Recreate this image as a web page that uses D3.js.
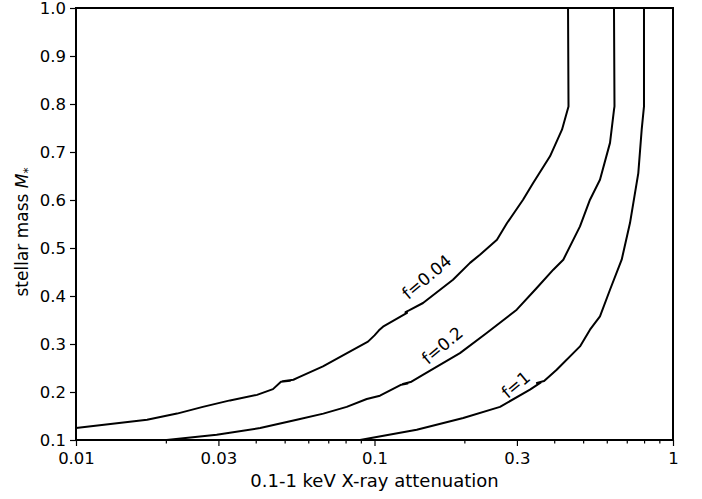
<!DOCTYPE html>
<html>
<head>
<meta charset="utf-8">
<script src="https://cdn.jsdelivr.net/npm/d3@7"></script>
<style>
  html, body { margin: 0; padding: 0; background: #fff; }
  text { font-family: "DejaVu Sans", sans-serif; fill: #000; }
</style>
</head>
<body>
<svg id="chart" width="702" height="499"></svg>
<script>
// contour lines: [attenuation, stellar mass]
const curveF004 = [
  [0.0100, 0.125], [0.0173, 0.142], [0.0218, 0.155], [0.0266, 0.169], [0.0328, 0.1825],
  [0.0404, 0.194], [0.0457, 0.206], [0.0486, 0.2215], [0.0522, 0.2235], [0.0492, 0.2225],
  [0.0535, 0.2255], [0.0554, 0.2298], [0.0672, 0.2533], [0.0809, 0.281], [0.0951, 0.305],
  [0.1000, 0.318], [0.1035, 0.3285], [0.1068, 0.336], [0.1285, 0.365], [0.1270, 0.3665],
  [0.1310, 0.3705], [0.1454, 0.3854], [0.1832, 0.434], [0.2089, 0.469], [0.2256, 0.486],
  [0.2572, 0.517], [0.2780, 0.552], [0.3145, 0.6006], [0.3396, 0.635], [0.3872, 0.691],
  [0.4247, 0.7465], [0.4466, 0.795], [0.4450, 1.0]
];
const curveF02 = [
  [0.0201, 0.100], [0.0296, 0.111], [0.0414, 0.125], [0.0549, 0.142], [0.0674, 0.155],
  [0.0807, 0.169], [0.0942, 0.1854], [0.1043, 0.1923], [0.1230, 0.2152], [0.1290, 0.2175],
  [0.1245, 0.2168], [0.1330, 0.2215], [0.1457, 0.236], [0.1933, 0.281], [0.2376, 0.323],
  [0.2996, 0.3715], [0.3495, 0.4167], [0.3972, 0.4548], [0.4290, 0.4756], [0.4880, 0.545],
  [0.5271, 0.6006], [0.5693, 0.6423], [0.6151, 0.719], [0.6343, 0.788], [0.6368, 0.795],
  [0.6343, 1.0]
];
const curveF1 = [
  [0.0894, 0.100], [0.1385, 0.1215], [0.1983, 0.1458], [0.2633, 0.169], [0.3318, 0.205],
  [0.3600, 0.2195], [0.3500, 0.2190], [0.3700, 0.2230], [0.4077, 0.2465], [0.4880, 0.295],
  [0.5271, 0.3298], [0.5693, 0.3575], [0.6151, 0.413], [0.6731, 0.4756], [0.7176, 0.552],
  [0.7652, 0.656], [0.7854, 0.7465], [0.7995, 0.795], [0.7995, 1.0]
];
const curves = [curveF004, curveF02, curveF1];

const curveLabels = ["f=0.04", "f=0.2", "f=1"];
const labelAt = [[0.1496, 0.4396], [0.1687, 0.297], [0.2972, 0.2152]];

const xTicks = [0.01, 0.03, 0.1, 0.3, 1];
const xTickLabels = ["0.01", "0.03", "0.1", "0.3", "1"];
const xMinor = [0.02, 0.04, 0.05, 0.06, 0.07, 0.08, 0.09, 0.2, 0.4, 0.5, 0.6, 0.7, 0.8, 0.9];
const yTicks = [0.1, 0.2, 0.3, 0.4, 0.5, 0.6, 0.7, 0.8, 0.9, 1.0];

const margin = { left: 76, right: 29, top: 8, bottom: 59 };
const width = 702, height = 499;

const svg = d3.select("#chart");
svg.append("rect").attr("width", width).attr("height", height).attr("fill", "#fff");

const x = d3.scaleLog().domain([0.01, 1]).range([margin.left, width - margin.right]);
const y = d3.scaleLinear().domain([0.1, 1.0]).range([height - margin.bottom, margin.top]);

// curves
const line = d3.line().x((d) => x(d[0])).y((d) => y(d[1]));
svg.append("g")
  .selectAll("path")
  .data(curves)
  .enter().append("path")
  .attr("d", line)
  .attr("fill", "none")
  .attr("stroke", "#000")
  .attr("stroke-width", 2)
  .attr("stroke-linejoin", "round");

// curve labels
svg.append("g")
  .selectAll("text")
  .data(curveLabels)
  .enter().append("text")
  .attr("transform", (d, i) => `translate(${x(labelAt[i][0])},${y(labelAt[i][1])}) rotate(-40)`)
  .attr("text-anchor", "middle")
  .attr("dy", "0.35em")
  .style("font-size", "17px")
  .text((d) => d);

// axes
const xAxis = d3.axisBottom(x).tickValues(xTicks)
  .tickFormat((d, i) => xTickLabels[i]).tickSize(6).tickPadding(6);
const xAxisMinor = d3.axisBottom(x).tickValues(xMinor).tickFormat("").tickSize(3.5);
const yAxis = d3.axisLeft(y).tickValues(yTicks).tickFormat(d3.format(".1f")).tickSize(6).tickPadding(4);

const gx = svg.append("g").attr("transform", `translate(0,${height - margin.bottom})`).call(xAxis);
const gxm = svg.append("g").attr("transform", `translate(0,${height - margin.bottom})`).call(xAxisMinor);
const gy = svg.append("g").attr("transform", `translate(${margin.left},0)`).call(yAxis);

[gx, gxm, gy].forEach((g) => {
  g.select(".domain").remove();
  g.selectAll("line").attr("stroke", "#000").attr("stroke-width", 1.2);
  g.selectAll("text").style("font-size", "16.5px").attr("fill", "#000");
});

// frame
svg.append("rect")
  .attr("x", margin.left).attr("y", margin.top)
  .attr("width", width - margin.left - margin.right)
  .attr("height", height - margin.top - margin.bottom)
  .attr("fill", "none").attr("stroke", "#000").attr("stroke-width", 2);

// axis titles
svg.append("text")
  .attr("x", (margin.left + width - margin.right) / 2)
  .attr("y", 487)
  .attr("text-anchor", "middle")
  .style("font-size", "18px")
  .text("0.1-1 keV X-ray attenuation");

const yTitle = svg.append("text")
  .attr("transform", "translate(28,232) rotate(-90)")
  .attr("text-anchor", "middle")
  .style("font-size", "17px");
yTitle.append("tspan").text("stellar mass ");
yTitle.append("tspan").style("font-style", "italic").text("M");
yTitle.append("tspan").attr("dy", "4").style("font-size", "12px").text("*");
</script>
</body>
</html>
